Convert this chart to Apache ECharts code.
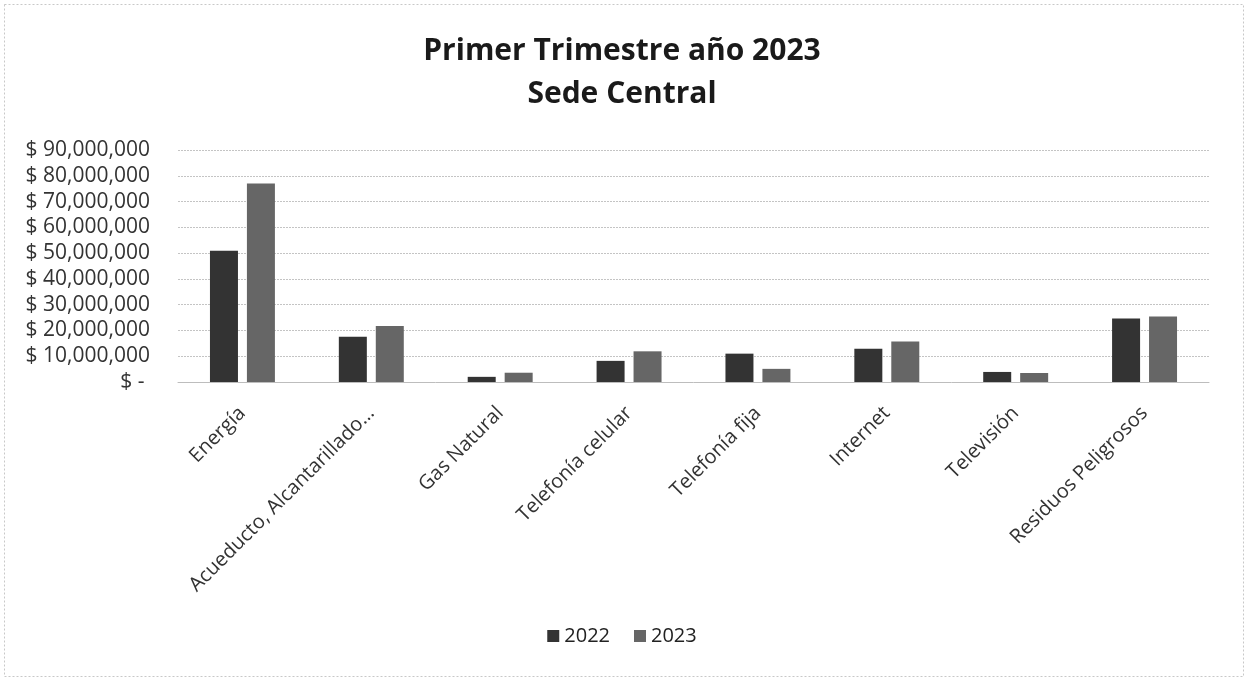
<!DOCTYPE html>
<html><head><meta charset="utf-8">
<script src="https://cdn.jsdelivr.net/npm/echarts@6/dist/echarts.min.js"></script>
<style>html,body{margin:0;padding:0;background:#fff}#c{width:1244px;height:677px}</style>
</head><body><div id="c"></div>
<script>
const categories = ["Energía","Acueducto, Alcantarillado…","Gas Natural","Telefonía celular","Telefonía fija","Internet","Televisión","Residuos Peligrosos"];
const values2022 = [50900000,17600000,2000000,8200000,11000000,12900000,3900000,24600000];
const values2023 = [77000000,21700000,3600000,11900000,5100000,15700000,3500000,25400000];
const yTicks = [0,10000000,20000000,30000000,40000000,50000000,60000000,70000000,80000000,90000000];

const font = "'Open Sans', 'Liberation Sans', sans-serif";
const chart = echarts.init(document.getElementById('c'));
chart.setOption({
  animation:false,
  title:{text:'Primer Trimestre año 2023\nSede Central',left:'center',top:25,
    textStyle:{fontFamily:font,fontSize:30,fontWeight:'bold',color:'#1a1a1a',lineHeight:43}},
  legend:{bottom:26,left:'center',itemWidth:12,itemHeight:12,itemGap:24,
    textStyle:{fontFamily:font,fontSize:20,color:'#222'},icon:'rect',data:['2022','2023']},
  grid:{left:178,right:35,top:150,bottom:295},
  xAxis:{type:'category',data:categories,
    axisLine:{lineStyle:{color:'#bdbdbd',width:1}},axisTick:{show:false},
    axisLabel:{rotate:45,interval:0,fontFamily:font,fontSize:20,color:'#333',margin:28}},
  yAxis:{type:'value',min:0,max:yTicks[yTicks.length-1],interval:yTicks[1]-yTicks[0],
    axisLine:{show:false},axisTick:{show:false},
    splitLine:{lineStyle:{color:'#c4c4c4',width:1,type:[2,1]}},
    axisLabel:{fontFamily:font,fontSize:21,color:'#333',margin:28,
      formatter:v=>v===0?'$ - ':'$ '+v.toLocaleString('en-US')}},
  series:[
    {name:'2022',type:'bar',data:values2022,barWidth:28,barGap:'32%',itemStyle:{color:'#333333'}},
    {name:'2023',type:'bar',data:values2023,barWidth:28,itemStyle:{color:'#666666'}}
  ],
  graphic:[{type:'rect',left:2,top:2,shape:{width:1239,height:672},
    style:{fill:'none',stroke:'#c8c8c8',lineWidth:1,lineDash:[2,2]},silent:true}]
});
</script></body></html>
